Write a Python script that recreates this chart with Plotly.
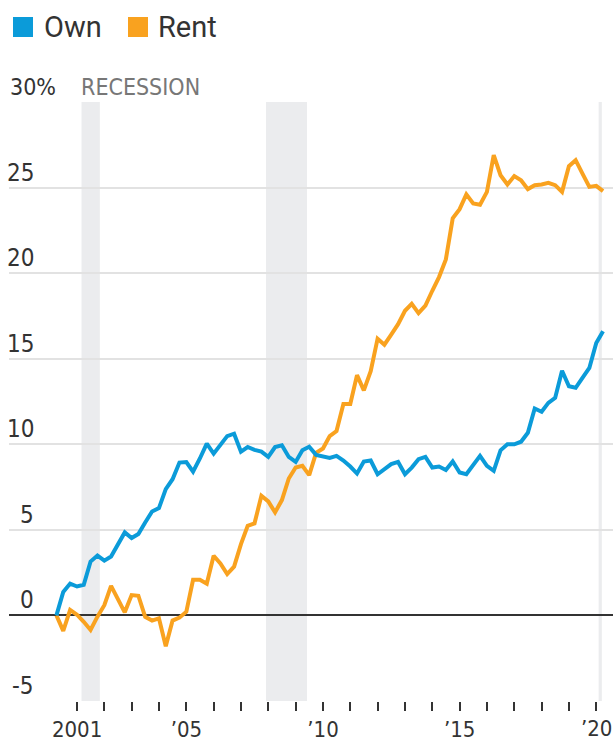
import plotly.graph_objects as go
import pandas as pd

# Quarterly, 2000 Q1 .. 2020 Q1 (quarter-end dates)
quarters = pd.date_range("2000-03-31", "2020-03-31", freq="QE").strftime("%Y-%m-%d").tolist()

own = [0, 1.37, 1.86, 1.69, 1.79, 3.15, 3.5, 3.2, 3.44, 4.19,
       4.85, 4.52, 4.76, 5.43, 6.07, 6.27, 7.38, 7.96, 8.93, 8.96,
       8.4, 9.17, 10.04, 9.45, 9.94, 10.48, 10.62, 9.57, 9.84, 9.67,
       9.57, 9.26, 9.84, 9.94, 9.26, 8.97, 9.65, 9.86, 9.38, 9.26,
       9.2, 9.32, 9.05, 8.7, 8.29, 8.99, 9.05, 8.25, 8.54, 8.84,
       8.97, 8.25, 8.64, 9.13, 9.26, 8.64, 8.7, 8.5, 9.0, 8.35,
       8.25, 8.74, 9.32, 8.74, 8.45, 9.65, 10.0, 10.0, 10.15, 10.67,
       12.09, 11.9, 12.42, 12.71, 14.3, 13.39, 13.3, 13.88, 14.46, 15.92,
       16.6]

rent = [0, -0.9, 0.32, 0.04, -0.37, -0.85, -0.07, 0.6, 1.73, 0.9,
        0.18, 1.19, 1.15, -0.08, -0.3, -0.17, -1.8, -0.3, -0.13, 0.22,
        2.08, 2.08, 1.85, 3.49, 3.04, 2.42, 2.85, 4.17, 5.24, 5.38,
        6.99, 6.66, 6.02, 6.74, 8.0, 8.64, 8.74, 8.2, 9.5, 9.75,
        10.48, 10.77, 12.36, 12.36, 14.04, 13.15, 14.27, 16.17, 15.82, 16.41,
        17.02, 17.8, 18.21, 17.66, 18.1, 18.97, 19.77, 20.8, 23.2, 23.74,
        24.6, 24.07, 24.0, 24.75, 26.89, 25.72, 25.18, 25.67, 25.43, 24.91,
        25.14, 25.18, 25.28, 25.14, 24.75, 26.25, 26.6, 25.82, 25.04, 25.1,
        24.79]

recessions = [("2001-03-01", "2001-11-01"),
              ("2007-12-01", "2009-06-01"),
              ("2020-02-01", "2020-03-15")]

y_ticks = [-5, 0, 5, 10, 15, 20, 25, 30]
y_labels = ["-5", "0", "5", "10", "15", "20", "25", "30%"]

x_ticks = [f"{y}-01-01" for y in range(2001, 2021)]
x_labels = {2001: "2001", 2005: "\u201905", 2010: "\u201910", 2015: "\u201915"}
x_text = [x_labels.get(y, "") for y in range(2001, 2021)]
last_label = ("2020-01-01", "\u201920")

BLUE = "#0b9bd9"
ORANGE = "#f9a21f"
NARROW = "Liberation Sans Narrow, DejaVu Sans Condensed, Roboto, sans-serif"
W, H = 613, 743
ML, MR, MT, MB = 9, 0, 102, 42
PW, PH = W - ML - MR, H - MT - MB


def px_x(p):
    return (p - ML) / PW


def px_y(p):
    return (H - MB - p) / PH


fig = go.Figure()
fig.add_trace(go.Scatter(x=quarters, y=rent, mode="lines", name="Rent",
                         line=dict(color=ORANGE, width=4)))
fig.add_trace(go.Scatter(x=quarters, y=own, mode="lines", name="Own",
                         line=dict(color=BLUE, width=4)))

shapes = []
for a, b in recessions:
    shapes.append(dict(type="rect", xref="x", yref="paper", x0=a, x1=b, y0=0, y1=1,
                       fillcolor="#ebecee", line_width=0, layer="below"))
# legend squares
shapes.append(dict(type="rect", xref="paper", yref="paper", x0=px_x(13), x1=px_x(33),
                   y0=px_y(37), y1=px_y(17), fillcolor=BLUE, line_width=0))
shapes.append(dict(type="rect", xref="paper", yref="paper", x0=px_x(128), x1=px_x(148),
                   y0=px_y(37), y1=px_y(17), fillcolor=ORANGE, line_width=0))

annotations = [
    dict(text="Own", xref="paper", yref="paper", x=px_x(42), y=px_y(27), xanchor="left",
         yanchor="middle", showarrow=False, font=dict(family="Roboto", size=29, color="#333")),
    dict(text="Rent", xref="paper", yref="paper", x=px_x(156), y=px_y(27), xanchor="left",
         yanchor="middle", showarrow=False, font=dict(family="Roboto", size=29, color="#333")),
    dict(text="RECESSION", xref="paper", yref="y", x=px_x(79), y=30, yshift=15, xanchor="left",
         yanchor="middle", showarrow=False, font=dict(family=NARROW, size=23, color="#777")),
    dict(text=last_label[1], xref="x", yref="paper", x=last_label[0], y=px_y(728),
         xanchor="center", yanchor="middle", showarrow=False,
         font=dict(family=NARROW, size=22, color="#333")),
]
for v, t in zip(y_ticks, y_labels):
    if t.endswith("%"):
        annotations.append(dict(text=t, xref="paper", yref="y", x=px_x(8), y=v, yshift=15,
                                xanchor="left", yanchor="middle", showarrow=False,
                                font=dict(family=NARROW, size=23, color="#333")))
    else:
        annotations.append(dict(text=t, xref="paper", yref="y", x=px_x(36), y=v, yshift=15,
                                xanchor="right", yanchor="middle", showarrow=False,
                                font=dict(family=NARROW, size=24, color="#333")))

fig.update_layout(
    width=W, height=H,
    margin=dict(l=ML, r=MR, t=MT, b=MB, autoexpand=False),
    paper_bgcolor="white", plot_bgcolor="white",
    showlegend=False,
    shapes=shapes,
    annotations=annotations,
    xaxis=dict(type="date", range=["1998-07-06", "2020-08-11"],
               tickmode="array", tickvals=x_ticks, ticktext=x_text,
               ticks="outside", ticklen=9, tickwidth=1.5, tickcolor="#333",
               ticklabelstandoff=0, automargin=False,
               showgrid=False, zeroline=False, showline=False,
               tickfont=dict(family=NARROW, size=22, color="#333")),
    yaxis=dict(range=[-5, 30], tickmode="array", tickvals=y_ticks, showticklabels=False,
               showgrid=True, gridcolor="#e2e2e2", gridwidth=1.5, automargin=False,
               zeroline=True, zerolinecolor="#333", zerolinewidth=2,
               showline=False, ticks=""),
)

fig.write_html("out.html", config={"displayModeBar": False},
               post_script="document.body.style.margin='0';document.body.style.overflow='hidden';")
